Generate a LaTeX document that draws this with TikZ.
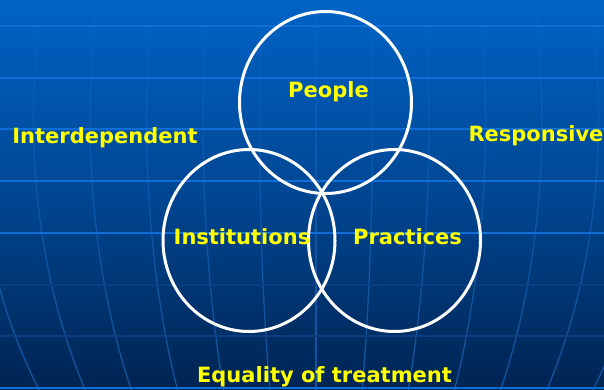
\documentclass[tikz,border=0pt]{standalone}
\usepackage{fontspec}
\setmainfont{DejaVu Sans}
\usetikzlibrary{shapes.geometric,fadings}
\definecolor{bgtop}{RGB}{0,99,198}
\definecolor{bgmid}{RGB}{0,70,146}
\definecolor{bgbot}{RGB}{0,36,82}
\definecolor{hlbright}{RGB}{18,110,215}
\definecolor{hldim}{RGB}{12,62,132}
\definecolor{meridian}{RGB}{45,135,235}
\definecolor{labelyellow}{RGB}{255,255,0}
\tikzfading[name=meridianfade, top color=transparent!88, middle color=transparent!35, bottom color=transparent!0]
\begin{document}
\begin{tikzpicture}[x=1pt,y=-1pt,
  ring/.style={draw=white, line width=3pt, ellipse, minimum width=172pt, minimum height=182pt, inner sep=0pt},
  wordlabel/.style={text=labelyellow, font=\bfseries\fontsize{21}{25}\selectfont, anchor=base, inner sep=0pt},
  hline/.style={line width=2pt},
  mline/.style={draw=meridian, draw opacity=0.5, line width=1.3pt, path fading=meridianfade, fit fading=true}]
\useasboundingbox (0,0) rectangle (604,390);
\shade[top color=bgtop, bottom color=bgbot, middle color=bgmid] (0,0) rectangle (604,390);
\begin{scope}
\clip (0,0) rectangle (604,390);
\foreach \k in {-6,...,6}
  \draw[mline] plot[domain=0:392, samples=40, variable=\t] ({316+56.5*\k*sqrt(1-((\t-120)/468)^2)}, \t);
\foreach \yy/\c in {26/hlbright, 77.7/hlbright, 129.4/hlbright, 181.1/hlbright, 232.8/hlbright, 284.5/hldim, 336.2/hldim, 387.9/hlbright}
  \draw[hline, draw=\c] (0,\yy) -- (604,\yy);
\end{scope}
\node[ring] (people) at (325.5,102.5) {};
\node[ring] (institutions) at (249,240.5) {};
\node[ring] (practices) at (394.5,240.5) {};
\node[wordlabel] (tpeople) at (328.5,98) {People};
\node[wordlabel] (tinst) at (242,244) {Institutions};
\node[wordlabel] (tprac) at (407.5,244) {Practices};
\node[wordlabel] (tinter) at (105,143) {Interdependent};
\node[wordlabel] (tresp) at (536,142) {Responsive};
\node[wordlabel] (tequal) at (324.5,382) {Equality of treatment};
\end{tikzpicture}
\end{document}
